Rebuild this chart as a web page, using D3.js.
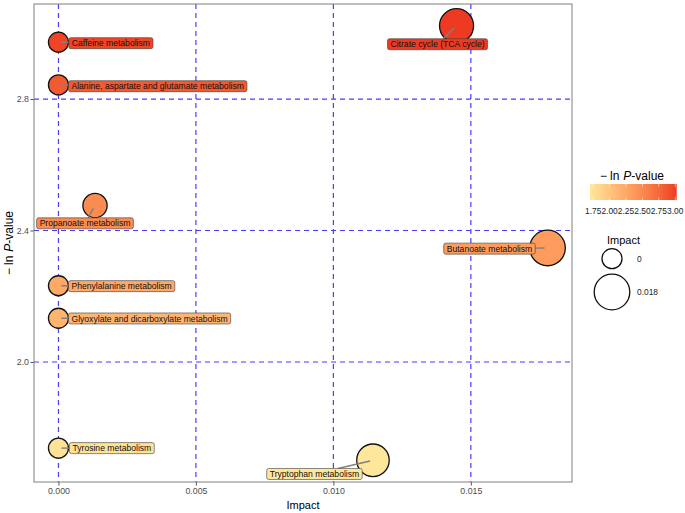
<!DOCTYPE html>
<html>
<head>
<meta charset="utf-8">
<script src="https://cdn.jsdelivr.net/npm/d3@7"></script>
<style>
  body { margin: 0; background: #fff; }
  svg { font-family: "Liberation Sans", Arial, sans-serif; }
</style>
</head>
<body>
<div id="chart"></div>
<script>
// data
const pathways = ["Citrate cycle (TCA cycle)", "Caffeine metabolism", "Alanine, aspartate and glutamate metabolism",
  "Propanoate metabolism", "Butanoate metabolism", "Phenylalanine metabolism",
  "Glyoxylate and dicarboxylate metabolism", "Tyrosine metabolism", "Tryptophan metabolism"];
const impact = [0.01448, 0, 0, 0.00133, 0.01779, 0, 0, 0, 0.01144];
const negLogP = [3.023, 2.973, 2.843, 2.476, 2.347, 2.232, 2.133, 1.738, 1.701];
const xTicks = [0, 0.005, 0.010, 0.015];
const yTicks = [2.0, 2.4, 2.8];
const colorTicks = [1.75, 2.00, 2.25, 2.50, 2.75, 3.00];
const sizeBreaks = [0, d3.max(impact)];
const sizeLabels = ["0", "0.018"];

// label placement (repel result), px relative to point
const labelPos = [
  {dx: -19, dy: 18.5, anchor: "middle"},
  {dx: 10.3, dy: 1, anchor: "start"},
  {dx: 10, dy: 1.3, anchor: "start"},
  {dx: -10, dy: 17.8, anchor: "middle"},
  {dx: -12.3, dy: 0.7, anchor: "end"},
  {dx: 10, dy: 0.4, anchor: "start"},
  {dx: 10, dy: 0.2, anchor: "start"},
  {dx: 11, dy: 0, anchor: "start"},
  {dx: -58.5, dy: 13.7, anchor: "middle"}
];

const data = pathways.map((p, i) => ({name: p, x: impact[i], y: negLogP[i], lp: labelPos[i]}));

const W = 685, H = 513;
const panel = {left: 34, right: 572, top: 4, bottom: 482};

function expand(ext, f) { const d = (ext[1] - ext[0]) * f; return [ext[0] - d, ext[1] + d]; }

const x = d3.scaleLinear().domain(expand(d3.extent(impact), 0.05)).range([panel.left, panel.right]);
const y = d3.scaleLinear().domain(expand(d3.extent(negLogP), 0.05)).range([panel.bottom, panel.top]);
const color = d3.scaleLinear().domain(d3.extent(negLogP)).range(["#FEE79B", "#EE3A22"]).interpolate(d3.interpolateLab);
const rMin = 10, rMax = 17.8;
const r = v => rMin + Math.sqrt(v / d3.max(impact)) * (rMax - rMin);

const svg = d3.select("#chart").append("svg").attr("width", W).attr("height", H);

// grid
const gridColor = "#4a3cff";
svg.append("g").selectAll("line").data(xTicks).enter().append("line")
  .attr("x1", d => x(d)).attr("x2", d => x(d)).attr("y1", panel.top).attr("y2", panel.bottom)
  .attr("stroke", gridColor).attr("stroke-width", 1.2).attr("stroke-dasharray", "5,4");
svg.append("g").selectAll("line").data(yTicks).enter().append("line")
  .attr("y1", d => y(d)).attr("y2", d => y(d)).attr("x1", panel.left).attr("x2", panel.right)
  .attr("stroke", gridColor).attr("stroke-width", 1.2).attr("stroke-dasharray", "5,4");

// axes
const xAxis = svg.append("g").attr("transform", `translate(0,${panel.bottom})`)
  .call(d3.axisBottom(x).tickValues(xTicks).tickFormat(d3.format(".3f")).tickSize(3.5).tickPadding(2));
const yAxis = svg.append("g").attr("transform", `translate(${panel.left},0)`)
  .call(d3.axisLeft(y).tickValues(yTicks).tickFormat(d3.format(".1f")).tickSize(3.5).tickPadding(1.5));
[xAxis, yAxis].forEach(a => {
  a.select(".domain").remove();
  a.selectAll("line").attr("stroke", "#555");
  a.selectAll("text").attr("fill", "#4d4d4d").style("font-size", "8.8px");
});

svg.append("rect").attr("x", panel.left).attr("y", panel.top)
  .attr("width", panel.right - panel.left).attr("height", panel.bottom - panel.top)
  .attr("fill", "none").attr("stroke", "#7f7f7f").attr("stroke-width", 1);

// titles
function pTitle(sel) {
  sel.append("tspan").text("\u2212");
  sel.append("tspan").attr("dx", 3).text("ln");
  sel.append("tspan").attr("dx", 4).style("font-style", "italic").text("P");
  sel.append("tspan").text("-value");
}
svg.append("text").attr("x", (panel.left + panel.right) / 2).attr("y", 509)
  .attr("text-anchor", "middle").style("font-size", "11px").text("Impact");
const yt = svg.append("text").attr("transform", `translate(13,${(panel.top + panel.bottom) / 2}) rotate(-90)`)
  .attr("text-anchor", "middle").style("font-size", "12px");
pTitle(yt);

// points
svg.append("g").selectAll("circle").data(data).enter().append("circle")
  .attr("cx", d => x(d.x)).attr("cy", d => y(d.y)).attr("r", d => r(d.x))
  .attr("fill", d => color(d.y)).attr("stroke", "#111").attr("stroke-width", 1.3);

// labels
const lg = svg.append("g");
data.forEach(d => {
  const px = x(d.x), py = y(d.y);
  const t = lg.append("text").style("font-size", "8.6px").text(d.name);
  const tw = t.node().getComputedTextLength();
  const bw = tw + 6, bh = 11;
  let bx;
  if (d.lp.anchor === "start") bx = px + d.lp.dx;
  else if (d.lp.anchor === "end") bx = px + d.lp.dx - bw;
  else bx = px + d.lp.dx - bw / 2;
  const by = py + d.lp.dy - bh / 2;
  const cx = bx + bw / 2, cy = by + bh / 2;
  // segment from box edge to point
  const vx = px - cx, vy = py - cy;
  const s = Math.min(Math.abs(vx) > 0 ? (bw / 2) / Math.abs(vx) : Infinity, Math.abs(vy) > 0 ? (bh / 2) / Math.abs(vy) : Infinity);
  const len = Math.hypot(vx, vy);
  if (s < 1) {
    const sx = cx + vx * s, sy = cy + vy * s;
    const e = Math.max(0, 1 - 3 / len);
    lg.append("line").attr("x1", sx).attr("y1", sy).attr("x2", cx + vx * e).attr("y2", cy + vy * e)
      .attr("stroke", "#808080").attr("stroke-width", 1.4);
  }
  lg.append("rect").attr("x", bx).attr("y", by).attr("width", bw).attr("height", bh).attr("rx", 2)
    .attr("fill", color(d.y)).attr("stroke", "#3a3a3a").attr("stroke-width", 0.6);
  t.attr("x", bx + 3).attr("y", by + bh / 2 + 3.1).attr("fill", "#111").raise();
});

// colour legend
const cb = {x0: 590, x1: 676.7, y0: 184, y1: 200};
const lc = d3.scaleLinear().domain(d3.extent(negLogP)).range([cb.x0, cb.x1]);
const grad = svg.append("defs").append("linearGradient").attr("id", "cgrad");
d3.range(0, 1.0001, 0.1).forEach(f => {
  grad.append("stop").attr("offset", f).attr("stop-color", color(lc.invert(cb.x0 + f * (cb.x1 - cb.x0))));
});
svg.append("rect").attr("x", cb.x0).attr("y", cb.y0).attr("width", cb.x1 - cb.x0).attr("height", cb.y1 - cb.y0)
  .attr("fill", "url(#cgrad)");
const cg = svg.append("g");
colorTicks.forEach(v => {
  cg.append("line").attr("x1", lc(v)).attr("x2", lc(v)).attr("y1", cb.y0).attr("y2", cb.y0 + 3)
    .attr("stroke", "#fff").attr("stroke-width", 0.6).attr("opacity", 0.8);
  cg.append("line").attr("x1", lc(v)).attr("x2", lc(v)).attr("y1", cb.y1 - 3).attr("y2", cb.y1)
    .attr("stroke", "#fff").attr("stroke-width", 0.6).attr("opacity", 0.8);
  cg.append("text").attr("x", lc(v)).attr("y", 213.5).attr("text-anchor", "middle")
    .style("font-size", "8.4px").attr("fill", "#222").text(d3.format(".2f")(v));
});
const ct = svg.append("text").attr("x", 632).attr("y", 180).attr("text-anchor", "middle").style("font-size", "12px");
pTitle(ct);

// size legend
svg.append("text").attr("x", 607).attr("y", 244).style("font-size", "11px").text("Impact");
const sy = [258.7, 292];
sizeBreaks.forEach((v, i) => {
  svg.append("circle").attr("cx", 612).attr("cy", sy[i]).attr("r", r(v))
    .attr("fill", "#fff").attr("stroke", "#111").attr("stroke-width", 1.3);
  svg.append("text").attr("x", 637).attr("y", sy[i] + 3).style("font-size", "8.4px").attr("fill", "#222").text(sizeLabels[i]);
});
</script>
</body>
</html>
